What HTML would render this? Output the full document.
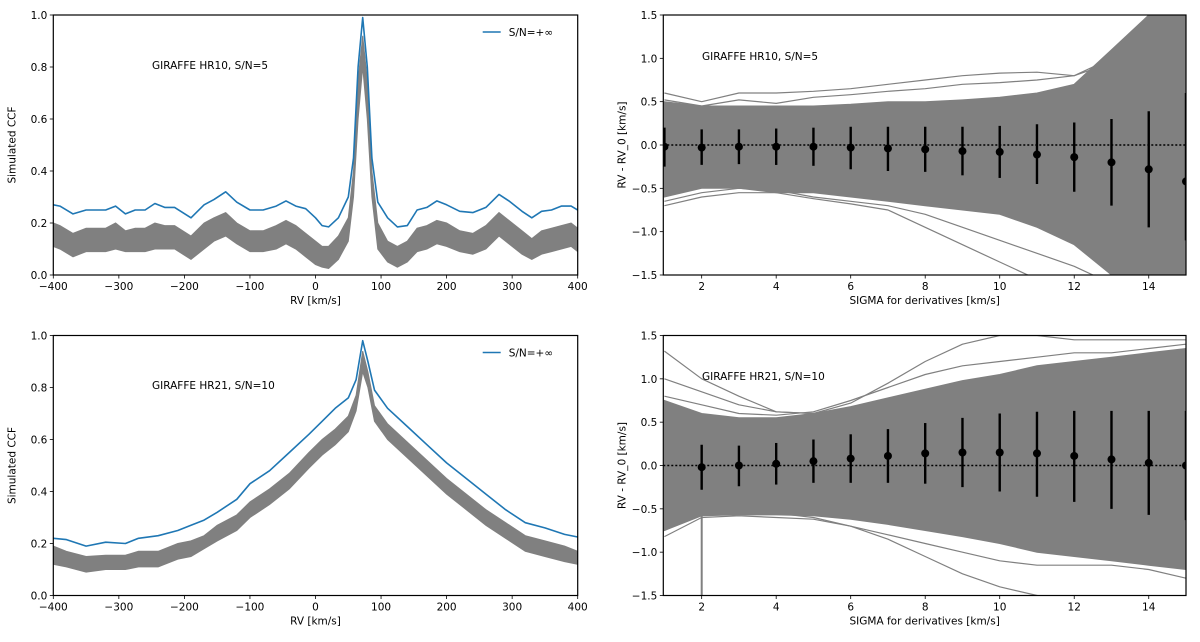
<!DOCTYPE html>
<html><head><meta charset="utf-8"><style>
html,body{margin:0;padding:0;background:#fff;}
svg{display:block;font-family:"DejaVu Sans","Liberation Sans",sans-serif;}
</style></head><body>
<svg id="fig" width="1200" height="642" viewBox="0 0 1200 642" xmlns="http://www.w3.org/2000/svg"></svg>
<script>
// ---------- Panel A (top-left) data ----------
const rvA = [-400,-390,-370,-350,-320,-305,-290,-275,-260,-245,-230,-215,-190,-170,-155,-137,-120,-100,-80,-60,-45,-30,-15,0,10,20,35,50,58,65,72,79,86,95,110,125,140,155,170,185,200,220,240,260,280,295,315,330,345,360,375,390,400];
const blueA = [0.27,0.265,0.235,0.25,0.25,0.265,0.235,0.25,0.25,0.275,0.26,0.26,0.22,0.27,0.29,0.32,0.28,0.25,0.25,0.265,0.285,0.265,0.255,0.22,0.19,0.185,0.22,0.30,0.45,0.8,0.99,0.8,0.45,0.28,0.22,0.185,0.19,0.25,0.26,0.285,0.27,0.245,0.24,0.26,0.31,0.285,0.245,0.22,0.245,0.25,0.265,0.265,0.25];
const grayHiA = [0.20,0.19,0.16,0.18,0.18,0.20,0.17,0.18,0.18,0.20,0.19,0.19,0.15,0.20,0.22,0.24,0.20,0.17,0.17,0.19,0.21,0.19,0.16,0.13,0.11,0.11,0.15,0.22,0.40,0.75,0.92,0.75,0.40,0.20,0.13,0.11,0.13,0.18,0.19,0.21,0.20,0.17,0.16,0.19,0.24,0.21,0.17,0.14,0.17,0.18,0.19,0.20,0.18];
const grayLoA = [0.11,0.10,0.07,0.09,0.09,0.10,0.09,0.09,0.09,0.10,0.10,0.10,0.06,0.10,0.13,0.15,0.12,0.09,0.09,0.10,0.12,0.10,0.07,0.04,0.03,0.025,0.06,0.13,0.30,0.60,0.80,0.60,0.30,0.10,0.05,0.03,0.05,0.09,0.10,0.12,0.11,0.09,0.08,0.10,0.15,0.12,0.08,0.06,0.08,0.09,0.10,0.11,0.09];
// ---------- Panel C (bottom-left) data ----------
const rvC = [-400,-380,-350,-320,-290,-270,-240,-210,-190,-170,-150,-120,-100,-70,-40,-10,10,30,50,62,72,80,90,110,140,170,200,230,260,290,320,350,380,400];
const blueC = [0.22,0.215,0.19,0.205,0.20,0.22,0.23,0.25,0.27,0.29,0.32,0.37,0.43,0.48,0.55,0.62,0.67,0.72,0.76,0.83,0.98,0.90,0.79,0.72,0.65,0.58,0.51,0.45,0.39,0.33,0.28,0.26,0.235,0.225];
const grayHiC = [0.19,0.17,0.15,0.155,0.155,0.17,0.17,0.20,0.21,0.23,0.27,0.31,0.36,0.41,0.47,0.55,0.60,0.64,0.69,0.77,0.94,0.86,0.73,0.66,0.59,0.52,0.45,0.39,0.33,0.28,0.23,0.21,0.19,0.17];
const grayLoC = [0.12,0.11,0.09,0.10,0.10,0.11,0.11,0.14,0.15,0.18,0.21,0.25,0.30,0.35,0.41,0.49,0.54,0.58,0.63,0.71,0.86,0.80,0.67,0.60,0.53,0.46,0.39,0.33,0.27,0.22,0.17,0.15,0.13,0.12];
const rvTicks = [-400,-300,-200,-100,0,100,200,300,400];
const ccfTicks = [0.0,0.2,0.4,0.6,0.8,1.0];
// ---------- Panel B (top-right) data ----------
const sigma = [1,2,3,4,5,6,7,8,9,10,11,12,13,14,15];
const meanB = [-0.02,-0.03,-0.02,-0.02,-0.02,-0.03,-0.04,-0.05,-0.07,-0.08,-0.11,-0.14,-0.20,-0.28,-0.42];
const errHiB = [0.20,0.18,0.18,0.19,0.20,0.21,0.21,0.21,0.21,0.22,0.24,0.26,0.30,0.39,0.60];
const errLoB = [-0.25,-0.23,-0.22,-0.23,-0.24,-0.28,-0.30,-0.31,-0.35,-0.38,-0.45,-0.54,-0.70,-0.95,-1.10];
const bandHiB = [0.50,0.45,0.45,0.45,0.45,0.47,0.50,0.50,0.52,0.55,0.60,0.70,1.10,1.50,1.60];
const bandLoB = [-0.60,-0.50,-0.50,-0.55,-0.55,-0.60,-0.65,-0.70,-0.75,-0.80,-0.95,-1.15,-1.50,-1.60,-1.60];
const outB1 = [0.60,0.50,0.60,0.60,0.62,0.65,0.70,0.75,0.80,0.83,0.84,0.80,0.95,1.25,1.60];
const outB2 = [-0.65,-0.55,-0.50,-0.52,-0.60,-0.65,-0.70,-0.80,-0.95,-1.10,-1.25,-1.40,-1.60,-1.80,-2.0];
const outB3 = [0.52,0.45,0.52,0.48,0.55,0.58,0.62,0.65,0.70,0.72,0.75,0.80,1.00,1.30,1.60];
const outB4 = [-0.70,-0.60,-0.55,-0.55,-0.62,-0.68,-0.75,-0.95,-1.15,-1.35,-1.55,-1.75,-1.90,-2.0,-2.0];
// ---------- Panel D (bottom-right) data ----------
const sigmaD = [2,3,4,5,6,7,8,9,10,11,12,13,14,15];
const meanD = [-0.02,0.0,0.02,0.05,0.08,0.11,0.14,0.15,0.15,0.14,0.11,0.07,0.03,0.0];
const errHiD = [0.24,0.23,0.26,0.30,0.36,0.42,0.49,0.55,0.60,0.62,0.63,0.63,0.63,0.63];
const errLoD = [-0.28,-0.24,-0.22,-0.20,-0.20,-0.20,-0.21,-0.25,-0.30,-0.36,-0.42,-0.50,-0.57,-0.63];
const bandHiD = [0.75,0.60,0.55,0.55,0.60,0.68,0.78,0.88,0.98,1.05,1.15,1.20,1.25,1.30,1.35];
const bandLoD = [-0.75,-0.58,-0.57,-0.57,-0.58,-0.62,-0.68,-0.75,-0.82,-0.90,-1.00,-1.05,-1.10,-1.15,-1.20];
const outD1 = [1.32,1.00,0.80,0.62,0.60,0.72,0.95,1.20,1.40,1.50,1.50,1.45,1.45,1.45,1.45];
const outD2 = [-0.82,-0.60,-0.58,-0.60,-0.62,-0.70,-0.85,-1.05,-1.25,-1.40,-1.50,-1.60,-1.70,-1.80,-1.90];
const outD3 = [0.80,0.70,0.60,0.58,0.62,0.75,0.90,1.05,1.15,1.20,1.25,1.30,1.30,1.35,1.40];
const outD4 = [-0.75,-0.55,-0.52,-0.55,-0.60,-0.70,-0.80,-0.90,-1.00,-1.10,-1.15,-1.15,-1.15,-1.20,-1.30];
const outD5 = [1.00,0.85,0.70,0.62,0.60,0.65,0.75,0.85,0.90,0.95,1.00,1.02,1.05,1.08,1.10];
const sigTicks = [2,4,6,8,10,12,14];
const rvdTicks = [-1.5,-1.0,-0.5,0.0,0.5,1.0,1.5];

const NS = "http://www.w3.org/2000/svg";
const fig = document.getElementById('fig');
function mk(tag, parent, attrs){
  const e = document.createElementNS(NS, tag);
  for (const k in attrs) e.setAttribute(k, attrs[k]);
  parent.appendChild(e);
  return e;
}
function fmtTick(v, dec){ const s = v.toFixed(dec); return s.replace('-', '\u2212'); }

function panel(id, box, xd, yd, xt, yt, xdec, ydec, xlab, ylab){
  const g = mk('g', fig, {});
  
  
  const sx = v => box.x0 + (v - xd[0]) / (xd[1] - xd[0]) * (box.x1 - box.x0);
  const sy = v => box.y1 - (v - yd[0]) / (yd[1] - yd[0]) * (box.y1 - box.y0);
  const clipId = id + '-clip';
  const defs = mk('defs', g, {});
  const cp = mk('clipPath', defs, {id: clipId});
  mk('rect', cp, {x: box.x0, y: box.y0, width: box.x1 - box.x0, height: box.y1 - box.y0});
  const plot = mk('g', g, {'clip-path': 'url(#' + clipId + ')'});
  
  
  xt.forEach(v => {
    const x = sx(v);
    const t = mk('line', g, {x1: x, x2: x, y1: box.y1, y2: box.y1 + 3.5, stroke: '#000', 'stroke-width': 0.8});
    
    
    const l = mk('text', g, {x: x, y: box.y1 + 15, 'text-anchor': 'middle', 'font-size': 10.5, fill: '#000'});
    l.textContent = fmtTick(v, xdec);
    
    
  });
  yt.forEach(v => {
    const y = sy(v);
    const t = mk('line', g, {x1: box.x0 - 3.5, x2: box.x0, y1: y, y2: y, stroke: '#000', 'stroke-width': 0.8});
    
    
    const l = mk('text', g, {x: box.x0 - 6, y: y + 4, 'text-anchor': 'end', 'font-size': 10.5, fill: '#000'});
    l.textContent = fmtTick(v, ydec);
    
    
  });
  const xl = mk('text', g, {x: (box.x0 + box.x1) / 2, y: box.y1 + 29, 'text-anchor': 'middle', 'font-size': 10.5});
  xl.textContent = xlab;
  
  
  const yx = box.x0 - 38, yy = (box.y0 + box.y1) / 2;
  const yl = mk('text', g, {x: yx, y: yy, 'text-anchor': 'middle', 'font-size': 10.5, transform: 'rotate(-90 ' + yx + ' ' + yy + ')'});
  yl.textContent = ylab;
  
  
  return {g, plot, sx, sy, box};
}
function frame(p){
  const r = mk('rect', p.g, {x: p.box.x0, y: p.box.y0, width: p.box.x1 - p.box.x0, height: p.box.y1 - p.box.y0, fill: 'none', stroke: '#000', 'stroke-width': 1.2});
  
  
}
function band(p, xs, hi, lo, name){
  let d = '';
  xs.forEach((x, i) => { d += (i ? 'L' : 'M') + p.sx(x).toFixed(1) + ',' + p.sy(hi[i]).toFixed(1); });
  for (let i = xs.length - 1; i >= 0; i--) d += 'L' + p.sx(xs[i]).toFixed(1) + ',' + p.sy(lo[i]).toFixed(1);
  const e = mk('path', p.plot, {d: d + 'Z', fill: '#808080', stroke: '#808080', 'stroke-width': 1});
  
  
}
function line(p, xs, ys, color, w, name){
  const d = xs.map((x, i) => (i ? 'L' : 'M') + p.sx(x).toFixed(1) + ',' + p.sy(ys[i]).toFixed(1)).join('');
  const e = mk('path', p.plot, {d: d, fill: 'none', stroke: color, 'stroke-width': w, 'stroke-linejoin': 'round'});
  
  
}
function label(p, x, y, txt){
  const t = mk('text', p.g, {x: x, y: y, 'font-size': 10.5});
  t.textContent = txt;
  
  
}
function legend(p){
  const lg = mk('g', p.g, {});
  
  
  mk('line', lg, {x1: p.box.x1 - 95, x2: p.box.x1 - 77, y1: p.box.y0 + 17, y2: p.box.y0 + 17, stroke: '#1f77b4', 'stroke-width': 1.6});
  const t = mk('text', lg, {x: p.box.x1 - 69, y: p.box.y0 + 21, 'font-size': 10.5});
  t.textContent = 'S/N=+\u221e';
}
function errbars(p, xs, m, hi, lo){
  const z = mk('line', p.plot, {x1: p.box.x0, x2: p.box.x1, y1: p.sy(0), y2: p.sy(0), stroke: '#000', 'stroke-width': 1.6, 'stroke-dasharray': '2,2'});
  
  
  xs.forEach((x, i) => {
    const b = mk('line', p.plot, {x1: p.sx(x), x2: p.sx(x), y1: p.sy(hi[i]), y2: p.sy(lo[i]), stroke: '#000', 'stroke-width': 2.4});
    
    
    const c = mk('circle', p.plot, {cx: p.sx(x), cy: p.sy(m[i]), r: 4, fill: '#000'});
    
    
  });
}

const A = panel('panel-hr10-ccf', {x0: 53.3, x1: 577.7, y0: 15, y1: 275}, [-400, 400], [0, 1], rvTicks, ccfTicks, 0, 1, 'RV [km/s]', 'Simulated CCF');
band(A, rvA, grayHiA, grayLoA, 'noisy-ccf-band');
line(A, rvA, blueA, '#1f77b4', 1.6, 'ccf-infinite-sn-line');
frame(A); legend(A); label(A, 152, 69, 'GIRAFFE HR10, S/N=5');

const C = panel('panel-hr21-ccf', {x0: 53.3, x1: 577.7, y0: 335.5, y1: 595.5}, [-400, 400], [0, 1], rvTicks, ccfTicks, 0, 1, 'RV [km/s]', 'Simulated CCF');
band(C, rvC, grayHiC, grayLoC, 'noisy-ccf-band');
line(C, rvC, blueC, '#1f77b4', 1.6, 'ccf-infinite-sn-line');
frame(C); legend(C); label(C, 152, 389, 'GIRAFFE HR21, S/N=10');

const B = panel('panel-hr10-rv', {x0: 663.3, x1: 1186, y0: 15, y1: 275}, [0.97, 15], [-1.5, 1.5], sigTicks, rvdTicks, 0, 1, 'SIGMA for derivatives [km/s]', 'RV - RV_0 [km/s]');
band(B, sigma, bandHiB, bandLoB, 'rv-trace-band');
line(B, sigma, outB1, '#808080', 1.2, 'rv-trace-outlier');
line(B, sigma, outB2, '#808080', 1.2, 'rv-trace-outlier');
line(B, sigma, outB3, '#808080', 1.2, 'rv-trace-outlier');
line(B, sigma, outB4, '#808080', 1.2, 'rv-trace-outlier');
errbars(B, sigma, meanB, errHiB, errLoB);
frame(B); label(B, 702, 60, 'GIRAFFE HR10, S/N=5');

const D = panel('panel-hr21-rv', {x0: 663.3, x1: 1186, y0: 335.5, y1: 595.5}, [0.97, 15], [-1.5, 1.5], sigTicks, rvdTicks, 0, 1, 'SIGMA for derivatives [km/s]', 'RV - RV_0 [km/s]');
band(D, sigma, bandHiD, bandLoD, 'rv-trace-band');
line(D, sigma, outD1, '#808080', 1.2, 'rv-trace-outlier');
line(D, sigma, outD2, '#808080', 1.2, 'rv-trace-outlier');
line(D, sigma, outD3, '#808080', 1.2, 'rv-trace-outlier');
line(D, sigma, outD4, '#808080', 1.2, 'rv-trace-outlier');
line(D, sigma, outD5, '#808080', 1.2, 'rv-trace-outlier');
line(D, [2, 2], [-0.5, -1.6], '#808080', 2, 'rv-trace-outlier');
errbars(D, sigmaD, meanD, errHiD, errLoD);
frame(D); label(D, 702, 380, 'GIRAFFE HR21, S/N=10');
</script>
</body></html>
